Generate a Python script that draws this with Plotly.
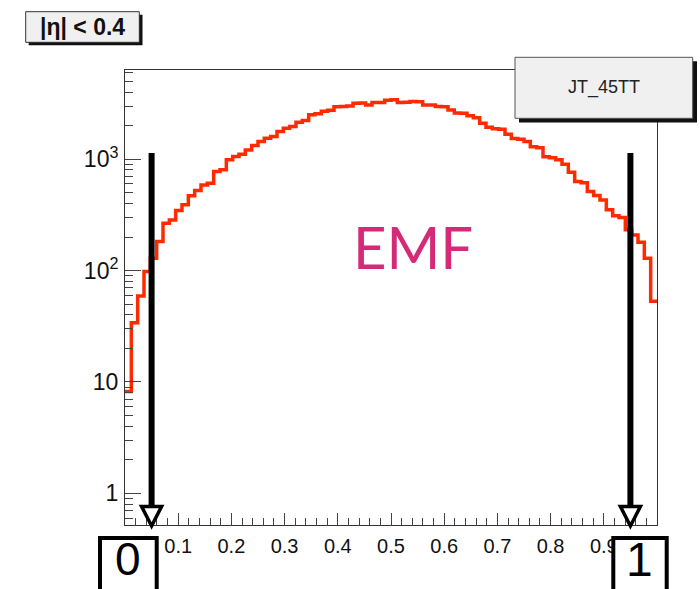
import numpy as np
import plotly.graph_objects as go

# ---------------- data ----------------
emf_counts = [
    8.2, 34, 59, 98, 129, 182, 266, 285, 346, 389,
    469, 523, 588, 609, 774, 802, 986, 1055, 1109, 1211,
    1324, 1438, 1544, 1596, 1770, 1898, 1963, 2149, 2220, 2500,
    2560, 2700, 2750, 2950, 2970, 3000, 3180, 3190, 3070, 3220,
    3230, 3380, 3410, 3220, 3250, 3290, 3280, 3070, 3060, 2970,
    2960, 2770, 2600, 2580, 2450, 2360, 2100, 1940, 1880, 1860,
    1675, 1530, 1510, 1438, 1290, 1270, 1050, 1030, 986, 902,
    764, 630, 615, 513, 471, 431, 351, 310, 300, 232,
    209, 180, 129, 53,
]
x_low, x_high = 0.0, 1.0
cut_low, cut_high = 0.05, 0.95
y_major_vals = [1, 10, 100, 1000]
y_major_text = ["1", "10", "10<sup>2</sup>", "10<sup>3</sup>"]
y_min, y_max = 0.52, 6320
title_text = "<b>|η| &lt; 0.4</b>"
legend_text = "JT_45TT"
var_text = "EMF"
low_label, high_label = "0", "1"

# ---------------- geometry ----------------
W, H = 700, 589
L, R, T, B = 125, 43, 70, 64
PW, PH = W - L - R, H - T - B


def px2x(px):
    return (px - L) / PW


def px2y(py):
    return (H - B - py) / PH


edges = np.linspace(x_low, x_high, len(emf_counts) + 1)
ys = list(emf_counts) + [emf_counts[-1]]

y_minor_vals = [m * 10 ** e for e in range(-1, 4) for m in range(2, 10)
                if y_min < m * 10 ** e < y_max]

fig = go.Figure()
fig.add_trace(go.Scatter(
    x=edges, y=ys, mode="lines", line_shape="hv",
    line=dict(color="#ff2a00", width=3.5), showlegend=False, hoverinfo="skip",
))

shapes = []
# title pave with shadow
shapes.append(dict(type="rect", xref="paper", yref="paper",
                   x0=px2x(28.7), x1=px2x(142.5), y0=px2y(45.3), y1=px2y(14.7),
                   fillcolor="#111", line=dict(width=0), layer="above"))
shapes.append(dict(type="rect", xref="paper", yref="paper",
                   x0=px2x(25.7), x1=px2x(139.3), y0=px2y(42.3), y1=px2y(11.7),
                   fillcolor="#f0f0f0", line=dict(color="#333", width=1), layer="above"))
# legend pave with shadow
shapes.append(dict(type="rect", xref="paper", yref="paper",
                   x0=px2x(519), x1=px2x(697), y0=px2y(122.5), y1=px2y(61.3),
                   fillcolor="#111", line=dict(width=0), layer="above"))
shapes.append(dict(type="rect", xref="paper", yref="paper",
                   x0=px2x(515), x1=px2x(692.7), y0=px2y(118.3), y1=px2y(57.3),
                   fillcolor="#f0f0f0", line=dict(color="#555", width=1), layer="above"))
# cut arrows
hw = 10 / PW
for c in (cut_low, cut_high):
    shapes.append(dict(type="line", xref="x", yref="paper",
                       x0=c, x1=c, y0=px2y(153), y1=px2y(508),
                       line=dict(color="black", width=6), layer="above"))
    shapes.append(dict(type="path", xref="x", yref="paper",
                       path=f"M {c - hw},{px2y(506.5)} L {c + hw},{px2y(506.5)} L {c},{px2y(526)} Z",
                       fillcolor="white", line=dict(color="black", width=3.5), layer="above"))
# bottom boxes
for x0, x1 in ((100, 156.7), (613.3, 666.7)):
    shapes.append(dict(type="rect", xref="paper", yref="paper",
                       x0=px2x(x0), x1=px2x(x1), y0=px2y(610), y1=px2y(538),
                       fillcolor="white", line=dict(color="black", width=4), layer="above"))

annotations = [
    dict(xref="paper", yref="paper", x=px2x(82.5), y=px2y(27), text=title_text,
         showarrow=False, xanchor="center", yanchor="middle",
         font=dict(family="Liberation Sans, Arial", size=23, color="#111")),
    dict(xref="paper", yref="paper", x=px2x(604), y=px2y(88), text=legend_text,
         showarrow=False, xanchor="center", yanchor="middle",
         font=dict(family="Liberation Sans, Arial", size=18, color="#222")),
    dict(xref="paper", yref="paper", x=px2x(413), y=px2y(247), text=var_text,
         showarrow=False, xanchor="center", yanchor="middle",
         font=dict(family="Lato, Noto Sans", size=58, color="#d42a78")),
    dict(xref="paper", yref="paper", x=px2x(128.3), y=px2y(559), text=low_label,
         showarrow=False, xanchor="center", yanchor="middle",
         font=dict(family="Liberation Sans, Arial", size=46, color="black")),
    dict(xref="paper", yref="paper", x=px2x(639), y=px2y(559), text=high_label,
         showarrow=False, xanchor="center", yanchor="middle",
         font=dict(family="Liberation Sans, Arial", size=48, color="black")),
]

fig.update_layout(
    width=W, height=H,
    margin=dict(l=L, r=R, t=T, b=B, autoexpand=False),
    paper_bgcolor="white", plot_bgcolor="white",
    shapes=shapes, annotations=annotations,
    font=dict(family="Liberation Sans, Arial", color="#111"),
)
fig.update_xaxes(
    range=[x_low, x_high], tick0=0, dtick=0.1,
    ticks="inside", ticklen=12, tickwidth=1, tickcolor="#444",
    minor=dict(dtick=0.02, ticks="inside", ticklen=7, tickcolor="#444", showgrid=False),
    showline=True, linecolor="#333", linewidth=1, mirror=True,
    showgrid=False, zeroline=False, tickfont=dict(size=20, color="#111"),
    ticklabelstandoff=3,
)
fig.update_yaxes(
    type="log", range=[np.log10(y_min), np.log10(y_max)],
    tickmode="array", tickvals=y_major_vals, ticktext=y_major_text,
    ticks="inside", ticklen=16, tickwidth=1, tickcolor="#444",
    minor=dict(tickmode="array", tickvals=y_minor_vals, ticks="inside",
               ticklen=8, tickcolor="#444", showgrid=False),
    showline=True, linecolor="#333", linewidth=1, mirror=True,
    showgrid=False, zeroline=False, tickfont=dict(size=23, color="#111"),
    ticklabelstandoff=1,
)

fig.write_html("out.html")
